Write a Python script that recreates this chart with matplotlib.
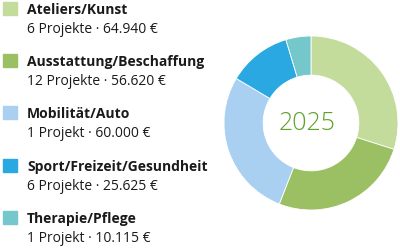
import matplotlib
matplotlib.use('Agg')
import matplotlib.pyplot as plt

# data
categories = ['Ateliers/Kunst', 'Ausstattung/Beschaffung', 'Mobilität/Auto',
              'Sport/Freizeit/Gesundheit', 'Therapie/Pflege']
projects = [6, 12, 1, 6, 1]
amounts = [64940, 56620, 60000, 25625, 10115]
amount_labels = ['64.940', '56.620', '60.000', '25.625', '10.115']
colors = ['#c3dc9b', '#9bbf63', '#a9cff1', '#2aa8e1', '#74c7cb']
year = '2025'

W, H = 400, 249
fig = plt.figure(figsize=(W / 100, H / 100), dpi=100)
plt.rcParams['font.family'] = ['Open Sans', 'DejaVu Sans']

# donut
cx, cy, r = 311, 123, 87
ax = fig.add_axes([(cx - r) / W, (H - cy - r) / H, 2 * r / W, 2 * r / H])
ax.pie(amounts, colors=colors, startangle=90, counterclock=False,
       wedgeprops=dict(width=0.45, edgecolor='white', linewidth=0.6))
ax.set_xlim(-1, 1)
ax.set_ylim(-1, 1)
ax.set_aspect('equal')
ax.text(-0.05, 0, year, ha='center', va='center', fontsize=18,
        color='#5fa22a', fontweight='light')

# legend
step = 52.2
for i, name in enumerate(categories):
    y0 = 14 + i * step
    fig.patches.append(plt.Rectangle((3 / W, 1 - (y0 + 1) / H), 14 / W, 13 / H,
                                     transform=fig.transFigure, color=colors[i]))
    fig.text(27 / W, 1 - y0 / H, name, fontsize=10, fontweight='bold',
             color='#1a1a1a', va='baseline')
    word = 'Projekt' if projects[i] == 1 else 'Projekte'
    fig.text(27 / W, 1 - (y0 + 19) / H, f'{projects[i]} {word} · {amount_labels[i]} €',
             fontsize=10, color='#1a1a1a', va='baseline')

fig.savefig('out.png', dpi=100)
